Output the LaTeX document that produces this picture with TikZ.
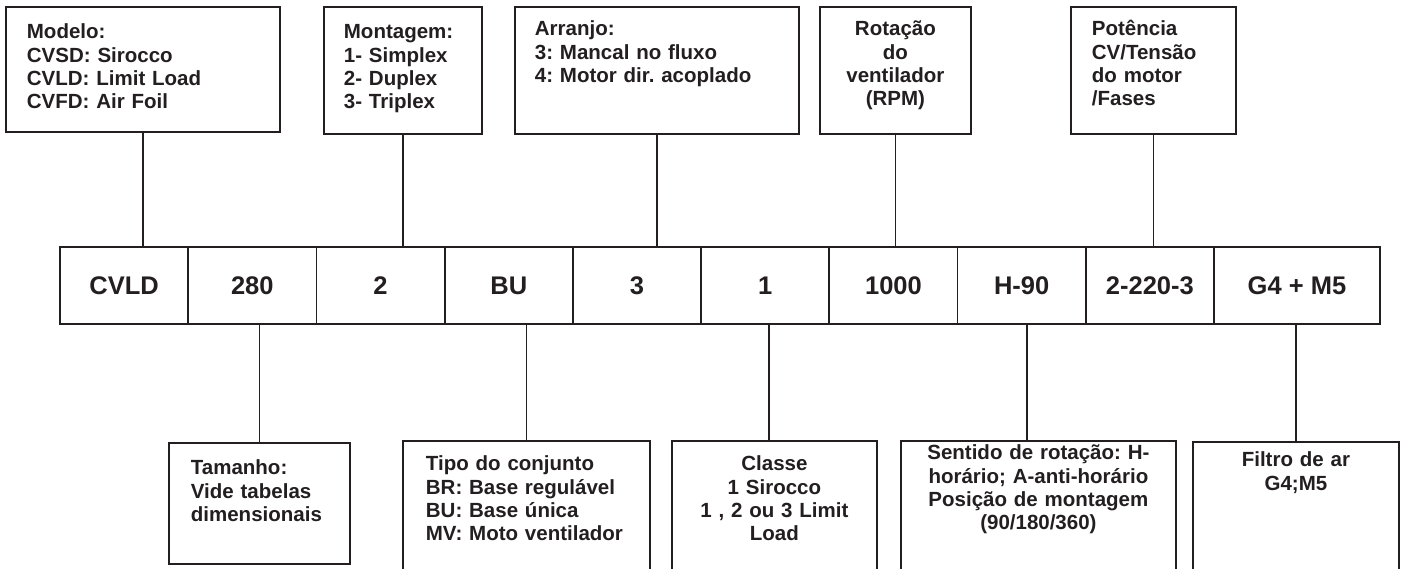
\documentclass[tikz,border=0pt]{standalone}
\usepackage{fontspec}
\setmainfont{Liberation Sans}
\usetikzlibrary{positioning}
\definecolor{tinta}{RGB}{35,31,32}
\frenchspacing

\begin{document}
\begin{tikzpicture}[x=1pt,y=-1pt,
    caixa/.style={draw=tinta,text=tinta,line width=1.8pt,anchor=north west,inner xsep=20pt,inner ysep=0pt,
        font=\fontsize{20.5}{23.3}\selectfont\bfseries,align=left},
    celula/.style={draw=tinta,text=tinta,line width=1.8pt,inner sep=0pt,outer sep=0pt,
        minimum height=77pt,minimum width=128.22pt,font=\fontsize{25.5}{30}\selectfont\bfseries},
    liga/.style={-,draw=tinta,line width=1.7pt}]
    \useasboundingbox (0,0) rectangle (1403,568);

    \node[caixa,inner xsep=21pt,text width=232pt,text height=32pt,text depth=93pt](modelo) at (5,6)
        {Modelo:\\CVSD: Sirocco\\CVLD: Limit Load\\CVFD: Air Foil};
    \node[caixa,text width=118pt,text height=32pt,text depth=95pt](montagem) at (323,6)
        {Montagem:\\1- Simplex\\2- Duplex\\3- Triplex};
    \node[caixa,text width=244pt,text height=29pt,text depth=98pt](arranjo) at (514,6)
        {Arranjo:\\3: Mancal no fluxo\\4: Motor dir. acoplado};
    \node[caixa,align=center,inner xsep=10pt,text width=131pt,text height=29pt,text depth=98pt](rotacao) at (819,6)
        {Rotação\\do\\ventilador\\(RPM)};
    \node[caixa,inner xsep=21pt,text width=123pt,text height=29pt,text depth=98pt](potencia) at (1070,6)
        {Potência\\CV/Tensão\\do motor\\/Fases};

    \node[celula,anchor=north west](c1) at (60,247) {CVLD};
    \node[celula,right=0pt of c1](c2) {280};
    \node[celula,right=0pt of c2](c3) {2};
    \node[celula,right=0pt of c3](c4) {BU};
    \node[celula,right=0pt of c4](c5) {3};
    \node[celula,right=0pt of c5](c6) {1};
    \node[celula,right=0pt of c6](c7) {1000};
    \node[celula,right=0pt of c7](c8) {H-90};
    \node[celula,right=0pt of c8](c9) {2-220-3};
    \node[celula,right=0pt of c9,minimum width=166pt](c10) {G4 + M5};

    \node[caixa,inner xsep=22pt,text width=137pt,text height=32pt,text depth=89pt](tamanho) at (168,442)
        {Tamanho:\\Vide tabelas\\dimensionais};
    \node[caixa,inner xsep=23pt,text width=201pt,text height=30pt,text depth=102pt](tipo) at (402,440)
        {Tipo do conjunto\\BR: Base regulável\\BU: Base única\\MV: Moto ventilador};
    \node[caixa,align=center,inner xsep=10pt,text width=185pt,text height=30pt,text depth=102pt](classe) at (671,440)
        {Classe\\1 Sirocco\\1 , 2 ou 3 Limit\\Load};
    \node[caixa,align=center,inner xsep=10pt,text width=255pt,text height=19pt,text depth=113pt](sentido) at (900,440)
        {Sentido de rotação: H-\\horário; A-anti-horário\\Posição de montagem\\(90/180/360)};
    \node[caixa,align=center,inner xsep=10pt,text width=186pt,text height=25pt,text depth=106pt](filtro) at (1192,441)
        {Filtro de ar\\G4;M5};

    \draw[liga](modelo.south)--(modelo.south |- c1.north);
    \draw[liga](montagem.south)--(montagem.south |- c3.north);
    \draw[liga](arranjo.south)--(arranjo.south |- c5.north);
    \draw[liga](rotacao.south)--(rotacao.south |- c7.north);
    \draw[liga](potencia.south)--(potencia.south |- c9.north);

    \draw[liga](tamanho.north)--(tamanho.north |- c2.south);
    \draw[liga](tipo.north)--(tipo.north |- c4.south);
    \draw[liga]([xshift=-5.5pt]classe.north)--([xshift=-5.5pt]classe.north |- c6.south);
    \draw[liga]([xshift=-11.5pt]sentido.north)--([xshift=-11.5pt]sentido.north |- c8.south);
    \draw[liga](filtro.north)--(filtro.north |- c10.south);
\end{tikzpicture}
\end{document}
